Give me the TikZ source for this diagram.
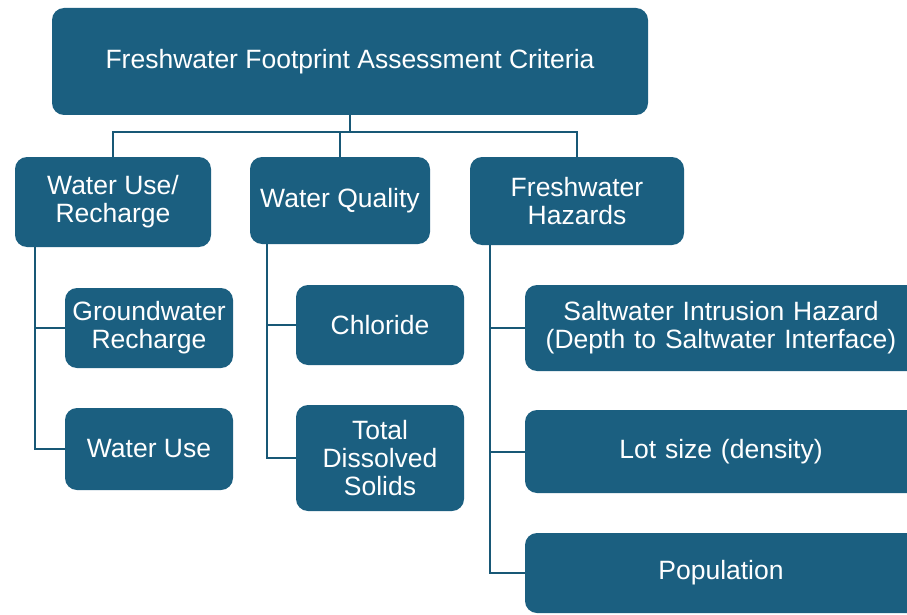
\documentclass[tikz,border=0pt]{standalone}
\usepackage{fontspec}
\setmainfont{Liberation Sans}
\usetikzlibrary{calc}
\definecolor{boxblue}{RGB}{27,95,128}
\definecolor{lineblue}{RGB}{24,88,118}
\begin{document}
\begin{tikzpicture}[x=1pt,y=-1pt,
  box/.style={fill=boxblue, rounded corners=12pt, text=white, align=center,
    font=\fontsize{26.5}{28}\selectfont, inner sep=0pt},
  conn/.style={draw=lineblue, line width=2pt}]
\clip (0,0) rectangle (907,615);
\fill[white] (0,0) rectangle (907,615);
% top
\node[box, minimum width=596pt, minimum height=107pt] (top) at (350,61.5) {Freshwater Footprint Assessment Criteria};
% level 2
\node[box, minimum width=196pt, minimum height=90pt] (wur) at (113,202) {Water Use/\\Recharge};
\node[box, minimum width=180pt, minimum height=87pt] (wq) at (340,200.5) {Water Quality};
\node[box, minimum width=214pt, minimum height=88pt] (fh) at (577,201) {Freshwater\\Hazards};
% level 3 left
\node[box, minimum width=168pt, minimum height=80pt] (gr) at (149,328) {Groundwater\\Recharge};
\node[box, minimum width=168pt, minimum height=82pt] (wu) at (149,449) {Water Use};
% level 3 middle
\node[box, minimum width=168pt, minimum height=80pt] (cl) at (380,325) {Chloride};
\node[box, minimum width=168pt, minimum height=106pt] (tds) at (380,458) {Total\\Dissolved\\Solids};
% level 3 right
\node[box, minimum width=395pt, minimum height=86pt, text width=395pt] (sw) at (722.5,328) {\hspace*{-3pt}Saltwater Intrusion Hazard\\\hspace*{-3pt}(Depth to Saltwater Interface)};
\node[box, minimum width=395pt, minimum height=83pt, text width=395pt] (lot) at (722.5,451.5) {\hspace*{-3pt}Lot size (density)};
\node[box, minimum width=395pt, minimum height=80pt, text width=395pt] (pop) at (722.5,573) {\hspace*{-3pt}Population};
% connectors
\coordinate (bus) at ($(top.south)+(0,17)$);
\draw[conn] (top.south) -- (bus);
\draw[conn] (bus) -| (wur.north);
\draw[conn] (bus) -| (wq.north);
\draw[conn] (bus) -| (fh.north);
\coordinate (lv) at ($(wur.south west)+(20,0)$);
\draw[conn] (lv) |- (gr.west);
\draw[conn] (lv) |- (wu.west);
\coordinate (mv) at ($(wq.south west)+(17,0)$);
\draw[conn] (mv) |- (cl.west);
\draw[conn] (mv) |- (tds.west);
\coordinate (rv) at ($(fh.south west)+(20,0)$);
\draw[conn] (rv) |- (sw.west);
\draw[conn] (rv) |- (lot.west);
\draw[conn] (rv) |- (pop.west);
\end{tikzpicture}
\end{document}
